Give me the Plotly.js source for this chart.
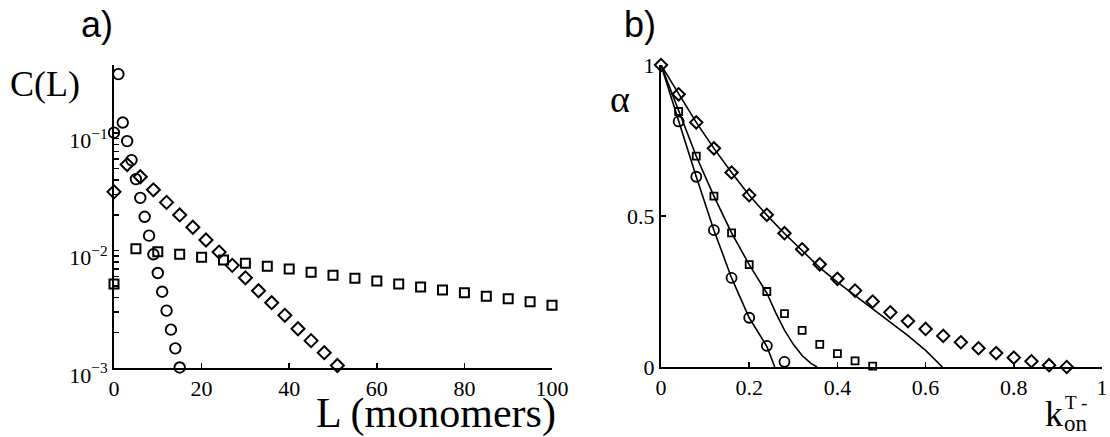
<!DOCTYPE html>
<html>
<head>
<meta charset="utf-8">
<script src="https://cdn.plot.ly/plotly-3.0.1.min.js"></script>
<style>html,body{margin:0;padding:0;background:#fff;}#chart{width:1110px;height:437px;}</style>
</head>
<body>
<div id="chart"></div>
<script>
// ---------- Panel a data: C(L) vs L ----------
const circL = [0,1,2,3,4,5,6,7,8,9,10,11,12,13,14,15];
const circC = [0.101,0.318,0.123,0.0855,0.0589,0.0406,0.0281,0.0194,0.0134,0.00929,0.00644,0.00446,0.00308,0.00212,0.00147,0.00101];
const diamL = [0,3,6,9,12,15,18,21,24,27,30,33,36,39,42,45,48,51];
const diamC = [0.0316,0.054,0.0425,0.0329,0.0257,0.0201,0.0158,0.0123,0.0097,0.00748,0.00586,0.00455,0.0036,0.00281,0.00216,0.00171,0.00135,0.00105];
const sqL = [0,5,10,15,20,25,30,35,40,45,50,55,60,65,70,75,80,85,90,95,100];
const sqC = [0.00519,0.01035,0.00977,0.00929,0.00876,0.0083,0.00778,0.00734,0.00696,0.00652,0.00615,0.0058,0.0055,0.00519,0.00489,0.00461,0.00438,0.00408,0.00389,0.00367,0.00343];
const aTickVals = [0.001,0.002,0.003,0.004,0.005,0.006,0.007,0.008,0.009,0.01,0.02,0.03,0.04,0.05,0.06,0.07,0.08,0.09,0.1];
const aTickText = ['10<sup>\u22123</sup>','','','','','','','','','10<sup>\u22122</sup>','','','','','','','','','10<sup>\u22121</sup>'];
const aXTicks = [0,20,40,60,80,100];
const aXText = ['0','20','40','60','80','100'];

// ---------- Panel b data: alpha vs k_on ----------
const bCircK = [0.04,0.08,0.12,0.16,0.20,0.24,0.28];
const bCircA = [0.813,0.630,0.453,0.295,0.163,0.070,0.017];
const bSqK = [0.04,0.08,0.12,0.16,0.20,0.24,0.28,0.32,0.36,0.40,0.44,0.48];
const bSqA = [0.846,0.698,0.566,0.444,0.339,0.250,0.177,0.121,0.075,0.044,0.020,0.003];
const bDiamK = [0,0.04,0.08,0.12,0.16,0.20,0.24,0.28,0.32,0.36,0.40,0.44,0.48,0.52,0.56,0.60,0.64,0.68,0.72,0.76,0.80,0.84,0.88,0.92];
const bDiamA = [1,0.903,0.810,0.724,0.644,0.569,0.504,0.443,0.390,0.340,0.292,0.253,0.217,0.181,0.152,0.126,0.103,0.082,0.062,0.046,0.031,0.019,0.006,0.0];
// fitted curves
const fitCircK = [0,0.04,0.08,0.12,0.16,0.20,0.24,0.258];
const fitCircA = [1,0.813,0.630,0.453,0.295,0.163,0.068,0];
const fitSqK = [0,0.04,0.08,0.12,0.16,0.20,0.24,0.26,0.28,0.30,0.32,0.34,0.354];
const fitSqA = [1,0.846,0.698,0.566,0.444,0.339,0.245,0.180,0.122,0.075,0.038,0.012,0];
const fitDiamK = [0,0.04,0.08,0.12,0.16,0.20,0.24,0.28,0.32,0.36,0.40,0.44,0.48,0.52,0.56,0.60,0.638];
const fitDiamA = [1,0.903,0.810,0.724,0.644,0.569,0.503,0.442,0.386,0.329,0.281,0.236,0.192,0.149,0.104,0.055,0];
const bXTicks = [0,0.2,0.4,0.6,0.8,1];
const bXText = ['0','0.2','0.4','0.6','0.8','1'];
const bYTicks = [0,0.5,1];
const bYText = ['0','0.5','1'];

const W = 1110, H = 437;
const px = x => x / W;
const py = y => 1 - y / H;
const serif = 'Liberation Serif';

function tf() { return {family: serif, size: 22, color: '#000'}; }
function mk(symbol, size, lw) {
  return {symbol: symbol, size: size, color: '#000', line: {color: '#000', width: lw}};
}

const traces = [
  {x: sqL, y: sqC, xaxis: 'x', yaxis: 'y', mode: 'markers', marker: mk('square-open', 9, 2), cliponaxis: false},
  {x: diamL, y: diamC, xaxis: 'x', yaxis: 'y', mode: 'markers', marker: mk('diamond-open', 10, 2), cliponaxis: false},
  {x: circL, y: circC, xaxis: 'x', yaxis: 'y', mode: 'markers', marker: mk('circle-open', 10.5, 1.9), cliponaxis: false},

  {x: fitDiamK, y: fitDiamA, xaxis: 'x2', yaxis: 'y2', mode: 'lines', line: {color: '#000', width: 1.6}, cliponaxis: false},
  {x: fitSqK, y: fitSqA, xaxis: 'x2', yaxis: 'y2', mode: 'lines', line: {color: '#000', width: 1.6}, cliponaxis: false},
  {x: fitCircK, y: fitCircA, xaxis: 'x2', yaxis: 'y2', mode: 'lines', line: {color: '#000', width: 1.6}, cliponaxis: false},
  {x: bSqK, y: bSqA, xaxis: 'x2', yaxis: 'y2', mode: 'markers', marker: mk('square-open', 7, 1.8), cliponaxis: false},
  {x: bCircK, y: bCircA, xaxis: 'x2', yaxis: 'y2', mode: 'markers', marker: mk('circle-open', 10, 1.8), cliponaxis: false},
  {x: bDiamK, y: bDiamA, xaxis: 'x2', yaxis: 'y2', mode: 'markers', marker: mk('diamond-open', 9.5, 2), cliponaxis: false}
];

function ax(extra) {
  return Object.assign({
    showline: true, linecolor: '#000', linewidth: 2, showgrid: false, zeroline: false,
    ticks: 'inside', ticklen: 5, tickwidth: 1.5, tickcolor: '#000', tickfont: tf(), fixedrange: true,
    tickmode: 'array'
  }, extra);
}

const layout = {
  width: W, height: H,
  margin: {l: 0, r: 0, t: 0, b: 0},
  paper_bgcolor: '#fff', plot_bgcolor: 'rgba(0,0,0,0)',
  font: {family: serif, size: 22, color: '#000'},
  showlegend: false,
  xaxis: ax({domain: [px(114), px(552)], range: [0, 100], tickvals: aXTicks, ticktext: aXText, anchor: 'y'}),
  yaxis: ax({domain: [py(368), py(65)], type: 'log', range: [-3, -0.42], tickvals: aTickVals, ticktext: aTickText, anchor: 'x', ticklabelshift: 7}),
  xaxis2: ax({domain: [px(661), px(1102)], range: [0, 1], tickvals: bXTicks, ticktext: bXText, anchor: 'y2'}),
  yaxis2: ax({domain: [py(367), py(65)], range: [0, 1], tickvals: bYTicks, ticktext: bYText, anchor: 'x2'}),
  annotations: [
    {text: 'a)', xref: 'paper', yref: 'paper', x: px(97), y: py(24), xanchor: 'center', yanchor: 'middle', showarrow: false, font: {family: 'Liberation Sans', size: 36, color: '#000'}},
    {text: 'b)', xref: 'paper', yref: 'paper', x: px(640), y: py(24), xanchor: 'center', yanchor: 'middle', showarrow: false, font: {family: 'Liberation Sans', size: 36, color: '#000'}},
    {text: 'C(L)', xref: 'paper', yref: 'paper', x: px(45), y: py(84), xanchor: 'center', yanchor: 'middle', showarrow: false, font: {family: serif, size: 36, color: '#000'}},
    {text: '\u03b1', xref: 'paper', yref: 'paper', x: px(620), y: py(99), xanchor: 'center', yanchor: 'middle', showarrow: false, font: {family: serif, size: 38, color: '#000'}},
    {text: 'L (monomers)', xref: 'paper', yref: 'paper', x: px(558), y: py(413), xanchor: 'right', yanchor: 'middle', showarrow: false, font: {family: serif, size: 42, color: '#000'}},
    {text: 'k', xref: 'paper', yref: 'paper', x: px(1043), y: py(414), xanchor: 'left', yanchor: 'middle', showarrow: false, font: {family: serif, size: 36, color: '#000'}},
    {text: 'T -', xref: 'paper', yref: 'paper', x: px(1063), y: py(402), xanchor: 'left', yanchor: 'middle', showarrow: false, font: {family: serif, size: 19, color: '#000'}},
    {text: 'on', xref: 'paper', yref: 'paper', x: px(1062), y: py(423), xanchor: 'left', yanchor: 'middle', showarrow: false, font: {family: serif, size: 23, color: '#000'}}
  ]
};

Plotly.newPlot('chart', traces, layout, {displayModeBar: false, staticPlot: true});
</script>
</body>
</html>
